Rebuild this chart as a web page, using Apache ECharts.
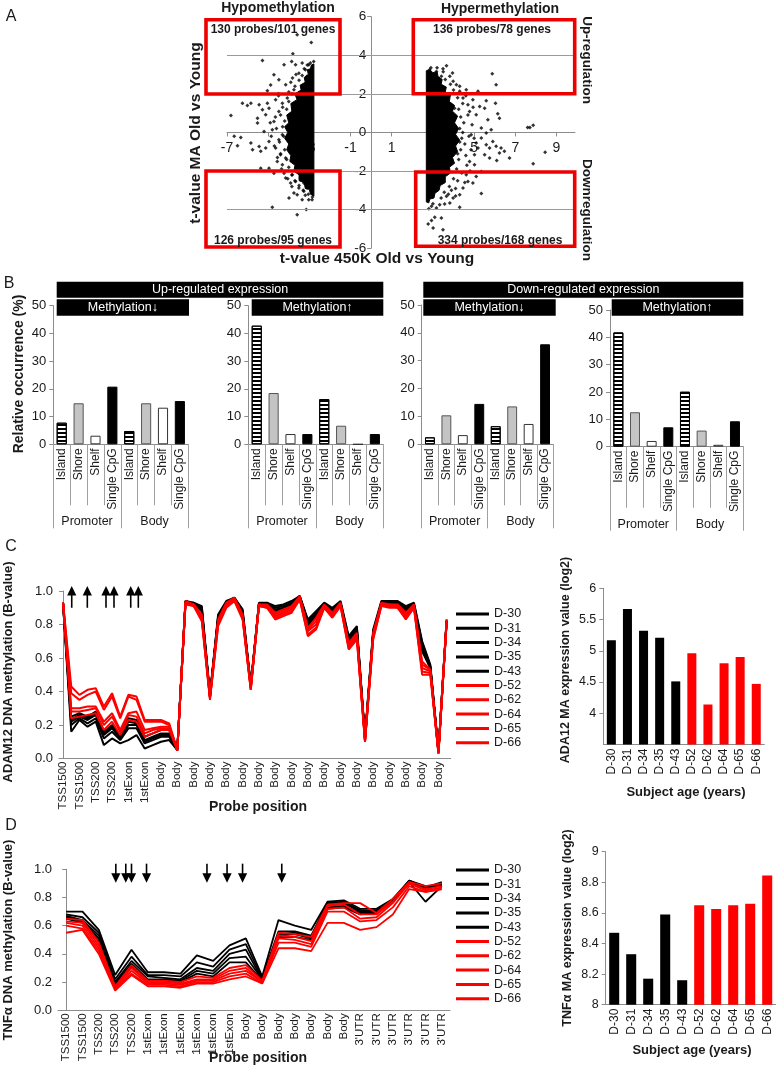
<!DOCTYPE html>
<html><head><meta charset="utf-8">
<script src="https://cdn.jsdelivr.net/npm/echarts@6/dist/echarts.min.js"></script>
<style>html,body{margin:0;padding:0;background:#fff}#c{width:778px;height:1072px}</style>
</head><body><div id="c"></div>
<script>
// ================= Panel A data =================
const aLeftCore = [[-2.78,3.55],[-2.9,3.5],[-2.95,3.3],[-3.1,3.25],[-3.05,3.0],[-3.25,2.85],[-3.2,2.6],[-3.45,2.45],[-3.4,2.2],[-3.7,2.0],[-3.6,1.7],[-3.9,1.5],[-3.85,1.1],[-4.1,0.9],[-4.0,0.5],[-4.2,0.3],[-4.05,0],[-4.2,-0.3],[-4.0,-0.6],[-4.1,-0.9],[-3.9,-1.2],[-3.95,-1.5],[-3.7,-1.7],[-3.75,-2.0],[-3.5,-2.2],[-3.5,-2.5],[-3.25,-2.6],[-3.2,-2.9],[-3.0,-2.95],[-2.95,-3.2],[-2.78,-3.3]];
const aRightCore = [[2.68,3.2],[2.85,3.25],[3.0,3.1],[3.2,3.15],[3.25,2.9],[3.45,2.75],[3.4,2.5],[3.65,2.35],[3.6,2.1],[3.85,1.95],[3.8,1.6],[4.05,1.4],[3.95,1.1],[4.2,0.85],[4.05,0.5],[4.25,0.2],[4.1,-0.1],[4.3,-0.4],[4.1,-0.7],[4.2,-1.0],[3.95,-1.3],[4.05,-1.6],[3.8,-1.8],[3.85,-2.1],[3.6,-2.3],[3.6,-2.6],[3.35,-2.75],[3.3,-3.0],[3.1,-3.15],[3.05,-3.4],[2.85,-3.45],[2.8,-3.65],[2.68,-3.6]];
const aLeftPoints = [
[-3.59,5.06],[-2.91,4.66],[-3.80,4.08],[-5.28,3.73],[-3.86,3.68],[-4.23,3.51],[-3.67,3.51],[-3.35,3.60],[-3.03,3.51],[-4.72,2.99],
[-4.48,2.73],[-4.88,2.46],[-5.04,2.16],[-4.15,2.47],[-4.50,2.00],[-6.25,1.52],[-6.01,1.40],[-5.84,1.52],[-5.44,1.44],[-5.28,1.18],
[-5.04,1.52],[-4.96,1.26],[-6.81,0.88],[-5.52,0.74],[-5.52,0.49],[-5.12,0.92],[-4.72,0.57],[-4.48,1.09],[-6.65,-0.20],[-6.33,-0.26],
[-6.49,-0.69],[-5.84,-0.55],[-5.76,-0.90],[-5.44,-0.73],[-5.36,-0.98],[-5.12,-0.81],[-4.96,-0.47],[-5.20,0.05],[-4.80,0.14],[-5.36,-1.85],
[-4.96,-1.85],[-4.72,-2.11],[-4.56,-1.50],[-4.40,-1.15],[-3.99,-3.40],[-3.75,-3.14],[-3.59,-3.23],[-3.35,-3.49],[-3.27,-3.05],[-3.03,-3.49],
[-2.87,-3.49],[-4.80,-3.88],[-3.59,-4.26],[-3.15,-4.00],[-4.15,-2.36],[-3.91,-2.62],[-3.51,-2.88],[-3.11,-2.88],[-2.87,-2.71],[-4.23,-2.11],
[-4.31,-1.68],[-4.15,-1.33],[-4.07,1.78],[-3.82,2.82],[-3.51,3.07],[-3.11,2.91],[-2.87,3.16],[-4.31,1.52],[-4.64,1.69],[-2.79,3.68],
[-3.19,3.25],[-3.75,2.21],[-4.64,-0.81],[-4.31,-0.12],[-4.48,-0.38],[-3.43,-2.36],[-3.27,-2.62],[-2.95,-2.36],[-3.67,-2.54],[-3.83,-2.19],
[-4.2,0.6],[-4.25,-0.2],[-4.3,0.3],[-4.2,-0.9],[-4.1,-1.4],[-4.0,-1.8],[-3.85,-2.2],[-3.7,-2.5],[-3.5,-2.75],[-3.3,-3.0],
[-4.1,1.2],[-4.0,1.6],[-3.85,2.0],[-3.7,2.4],[-3.5,2.7],[-3.35,2.95],[-3.25,3.3],[-3.1,3.5],[-2.95,3.6],[-4.4,0.9],
[-4.45,-0.5],[-4.4,-1.1],[-4.3,1.3],[-4.6,0.2],[-4.55,-1.3],[-4.35,-1.9],[-4.05,-2.4],[-3.85,-2.8],[-4.65,0.8],[-4.7,-0.7],
[-3.05,-3.2],[-2.85,-3.35],[-3.2,-3.25],[-2.9,-3.0],[-4.0,2.1],[-3.9,2.6],[-3.65,3.0],[-4.5,1.9],[-4.85,-0.2],[-4.9,0.5]
];
const aRightPoints = [
[3.66,3.46],[3.49,3.30],[3.95,3.08],[3.82,2.91],[3.98,2.65],[5.88,3.04],[6.07,2.47],[5.19,2.13],[4.94,1.70],[5.59,1.64],
[6.04,1.52],[4.70,1.44],[5.27,1.35],[4.78,1.09],[5.10,0.92],[6.15,0.97],[5.67,0.66],[6.23,0.74],[7.60,0.26],[7.87,0.37],
[7.71,0.26],[5.83,0.14],[5.59,-0.03],[5.35,0.23],[5.35,-0.29],[5.10,-0.55],[5.59,-0.64],[5.75,-0.81],[6.07,-0.72],[6.31,-0.81],
[6.23,-1.07],[6.47,-0.98],[6.72,-1.33],[6.10,-1.45],[5.75,-1.33],[8.45,-1.02],[7.87,-1.62],[5.35,-2.02],[5.10,-2.28],[4.70,-2.54],
[4.94,-2.62],[5.35,-3.17],[4.30,-3.88],[3.82,-3.66],[3.57,-3.71],[3.33,-3.75],[2.93,-3.83],[3.17,-3.92],[3.09,-4.40],[2.93,-4.57],
[2.77,-4.75],[3.41,-4.43],[3.49,-5.04],[3.01,-4.95],[4.46,-2.88],[4.30,-3.23],[4.62,-2.19],[4.78,-1.50],[5.02,-1.15],[4.86,-0.12],
[4.46,1.78],[4.30,2.13],[4.14,2.47],[4.62,2.21],[5.51,1.26],[5.91,-0.47],[3.17,3.16],[2.84,3.25],[3.41,2.91],[3.98,-3.40],
[3.66,-3.31],[5.19,-0.81],[5.51,-1.15],[5.02,-1.68],
[4.25,1.2],[4.35,0.8],[4.3,0.2],[4.4,-0.3],[4.35,-0.9],[4.25,-1.4],[4.15,-1.9],[4.0,-2.4],[3.8,-2.8],[3.55,-3.1],
[4.5,0.5],[4.55,-0.6],[4.6,-1.2],[4.45,1.5],[4.2,1.8],[4.0,2.2],[3.85,2.5],[3.6,2.75],[4.7,0.9],[4.75,-0.2],
[4.9,0.4],[4.65,-1.7],[4.4,-2.1],[4.2,-2.5],[3.9,-3.0],[4.1,-2.9],[3.75,-3.2],[3.4,-3.4],[3.0,-3.7],[2.8,-3.95],
[3.5,3.15],[3.2,3.35],[2.9,3.35],[4.05,1.25],[4.3,-0.5],[4.45,0.0],[4.2,-1.1],[5.0,-0.3],[4.85,-0.9],[4.95,1.3],
[4.3,2.4],[4.6,1.9],[4.8,-2.0],[4.55,-2.6],[4.1,-3.3]
];
const aGridLevels = [-4, -2, 2, 4];
const aXTicks = [-7, -5, -3, -1, 1, 3, 5, 7, 9];
const aXLabels = [-7, -3, -1, 1, 3, 5, 7, 9];
const aBoxCounts = ['130 probes/101 genes', '136 probes/78 genes', '126 probes/95 genes', '334 probes/168 genes'];

// ================= Panel B data =================
const bCategories = ['Island', 'Shore', 'Shelf', 'Single CpG', 'Island', 'Shore', 'Shelf', 'Single CpG'];
const bGroups = ['Promoter', 'Body'];
const bUpMethDown = [7.8, 14.8, 3.1, 20.8, 4.8, 14.8, 13.2, 15.6];
const bUpMethUp = [42.8, 18.5, 3.7, 3.7, 16.3, 6.7, 0, 3.7];
const bDownMethDown = [2.5, 10.4, 3.3, 14.5, 6.5, 13.6, 7.3, 35.9];
const bDownMethUp = [41.8, 12.6, 2.1, 7.1, 20.1, 5.9, 0.7, 9.3];
const bPanelTitles = ['Methylation\u2193', 'Methylation\u2191', 'Methylation\u2193', 'Methylation\u2191'];
const bHeaderTitles = ['Up-regulated expression', 'Down-regulated expression'];

// ================= Panels C / D data =================
const subjects = ['D-30', 'D-31', 'D-34', 'D-35', 'D-43', 'D-52', 'D-62', 'D-64', 'D-65', 'D-66'];
const subjectGroup = ['young', 'young', 'young', 'young', 'young', 'old', 'old', 'old', 'old', 'old'];

const cProbes = ['TSS1500','TSS1500','TSS1500','TSS1500','TSS200','TSS200','TSS200','TSS200','1stExon','1stExon','1stExon','1stExon',
 'Body','Body','Body','Body','Body','Body','Body','Body','Body','Body','Body','Body','Body','Body','Body','Body','Body','Body',
 'Body','Body','Body','Body','Body','Body','Body','Body','Body','Body','Body','Body','Body','Body','Body','Body','Body','Body'];
const cD30 = [0.93,0.25,0.27,0.25,0.28,0.16,0.20,0.14,0.24,0.23,0.13,0.15,0.17,0.17,0.06, 0.94,0.93,0.91,0.38,0.86,0.94,0.96,0.89,0.44,0.93,0.93,0.91,0.92,0.94,0.97,0.83,0.88,0.93,0.90,0.94,0.73,0.79,0.13,0.77,0.94,0.94,0.94,0.91,0.93,0.70,0.56,0.05,0.83];
const cD31 = [0.93,0.23,0.26,0.24,0.27,0.15,0.19,0.13,0.22,0.21,0.11,0.13,0.15,0.15,0.06, 0.94,0.92,0.90,0.37,0.85,0.93,0.96,0.88,0.43,0.92,0.92,0.90,0.91,0.93,0.97,0.82,0.87,0.92,0.89,0.93,0.72,0.78,0.12,0.76,0.93,0.93,0.93,0.90,0.92,0.69,0.55,0.04,0.82];
const cD34 = [0.92,0.22,0.25,0.23,0.26,0.14,0.18,0.12,0.20,0.20,0.10,0.12,0.14,0.14,0.05, 0.93,0.93,0.89,0.38,0.84,0.93,0.95,0.87,0.44,0.92,0.92,0.89,0.90,0.92,0.97,0.81,0.86,0.92,0.88,0.93,0.71,0.77,0.12,0.75,0.93,0.92,0.92,0.89,0.92,0.68,0.55,0.04,0.82];
const cD35 = [0.92,0.20,0.24,0.21,0.24,0.12,0.16,0.11,0.18,0.18,0.09,0.11,0.13,0.13,0.05, 0.94,0.92,0.88,0.37,0.84,0.92,0.96,0.87,0.42,0.92,0.92,0.88,0.90,0.92,0.96,0.80,0.85,0.92,0.88,0.93,0.70,0.77,0.11,0.75,0.92,0.92,0.92,0.89,0.91,0.66,0.54,0.04,0.82];
const cD43 = [0.92,0.16,0.23,0.19,0.22,0.08,0.12,0.09,0.11,0.14,0.06,0.08,0.10,0.11,0.05, 0.93,0.92,0.88,0.37,0.83,0.92,0.95,0.86,0.43,0.92,0.91,0.88,0.89,0.91,0.96,0.79,0.84,0.91,0.87,0.92,0.70,0.76,0.12,0.74,0.92,0.92,0.92,0.88,0.91,0.64,0.54,0.04,0.82];
const cD52 = [0.93,0.43,0.38,0.41,0.42,0.31,0.39,0.25,0.38,0.37,0.23,0.23,0.23,0.21,0.05, 0.94,0.92,0.86,0.37,0.83,0.93,0.96,0.86,0.43,0.92,0.92,0.87,0.89,0.91,0.97,0.78,0.84,0.92,0.87,0.93,0.69,0.75,0.11,0.75,0.93,0.92,0.92,0.87,0.92,0.58,0.53,0.04,0.83];
const cD62 = [0.93,0.39,0.35,0.38,0.40,0.29,0.37,0.24,0.37,0.35,0.22,0.22,0.22,0.20,0.05, 0.93,0.92,0.85,0.36,0.82,0.92,0.95,0.85,0.42,0.92,0.91,0.86,0.88,0.90,0.96,0.77,0.82,0.91,0.86,0.92,0.68,0.74,0.11,0.74,0.92,0.92,0.91,0.86,0.91,0.56,0.53,0.03,0.82];
const cD64 = [0.93,0.30,0.30,0.31,0.31,0.22,0.27,0.17,0.27,0.28,0.17,0.18,0.19,0.19,0.05, 0.93,0.91,0.84,0.36,0.81,0.91,0.95,0.84,0.42,0.91,0.91,0.85,0.87,0.89,0.96,0.76,0.80,0.91,0.85,0.92,0.67,0.73,0.10,0.73,0.92,0.91,0.91,0.85,0.91,0.54,0.52,0.03,0.82];
const cD65 = [0.93,0.28,0.28,0.29,0.30,0.20,0.25,0.16,0.26,0.25,0.15,0.17,0.18,0.18,0.05, 0.93,0.92,0.83,0.36,0.80,0.91,0.94,0.84,0.41,0.91,0.90,0.84,0.86,0.88,0.95,0.74,0.78,0.90,0.85,0.91,0.66,0.72,0.10,0.72,0.91,0.91,0.90,0.84,0.90,0.52,0.51,0.03,0.81];
const cD66 = [0.93,0.24,0.25,0.26,0.27,0.17,0.22,0.14,0.23,0.22,0.13,0.15,0.17,0.17,0.05, 0.92,0.91,0.82,0.35,0.79,0.90,0.94,0.83,0.41,0.91,0.90,0.83,0.85,0.87,0.95,0.73,0.77,0.90,0.84,0.91,0.65,0.71,0.10,0.71,0.91,0.90,0.90,0.83,0.90,0.50,0.50,0.03,0.81];
const cArrowPos = [1.06, 2.97, 5.26, 6.24, 8.29, 9.22];
const cExpr = [5.17, 5.67, 5.32, 5.21, 4.51, 4.96, 4.14, 4.80, 4.90, 4.47];

const dProbes = ['TSS1500','TSS1500','TSS200','TSS200','TSS200','1stExon','1stExon','1stExon','1stExon','1stExon','1stExon',
 'Body','Body','Body','Body','Body','Body','Body',"3'UTR","3'UTR","3'UTR","3'UTR","3'UTR","3'UTR"];
const dD30 = [0.70,0.70,0.57,0.25,0.43,0.27,0.27,0.26,0.39,0.35,0.46,0.51,0.24,0.64,0.60,0.57,0.77,0.78,0.72,0.72,0.79,0.92,0.87,0.90];
const dD31 = [0.68,0.66,0.55,0.22,0.38,0.25,0.25,0.24,0.34,0.31,0.43,0.47,0.23,0.56,0.56,0.53,0.76,0.77,0.71,0.70,0.78,0.91,0.86,0.89];
const dD34 = [0.67,0.64,0.53,0.20,0.35,0.24,0.23,0.22,0.30,0.28,0.40,0.43,0.22,0.54,0.55,0.52,0.75,0.76,0.70,0.71,0.77,0.91,0.77,0.88];
const dD35 = [0.66,0.63,0.51,0.19,0.33,0.22,0.22,0.21,0.28,0.26,0.37,0.38,0.22,0.53,0.54,0.51,0.73,0.74,0.69,0.70,0.78,0.92,0.88,0.89];
const dD43 = [0.65,0.62,0.49,0.18,0.31,0.21,0.21,0.20,0.26,0.24,0.34,0.34,0.21,0.52,0.52,0.50,0.72,0.73,0.68,0.69,0.77,0.90,0.87,0.91];
const dD52 = [0.65,0.64,0.48,0.17,0.32,0.21,0.21,0.20,0.24,0.23,0.30,0.32,0.21,0.55,0.54,0.52,0.75,0.76,0.76,0.69,0.79,0.91,0.88,0.90];
const dD62 = [0.63,0.62,0.46,0.16,0.30,0.20,0.20,0.19,0.22,0.22,0.28,0.30,0.20,0.53,0.52,0.49,0.74,0.75,0.68,0.68,0.77,0.90,0.86,0.88];
const dD64 = [0.62,0.60,0.44,0.15,0.28,0.19,0.19,0.18,0.21,0.21,0.26,0.28,0.20,0.51,0.50,0.47,0.72,0.73,0.65,0.66,0.76,0.90,0.85,0.87];
const dD65 = [0.60,0.58,0.42,0.15,0.26,0.18,0.18,0.17,0.20,0.20,0.24,0.26,0.19,0.48,0.48,0.45,0.70,0.70,0.63,0.64,0.73,0.88,0.84,0.86];
const dD66 = [0.55,0.57,0.40,0.14,0.25,0.17,0.17,0.16,0.19,0.19,0.22,0.24,0.19,0.44,0.44,0.42,0.62,0.62,0.57,0.59,0.68,0.86,0.84,0.86];
const dArrowPos = [3.04, 3.65, 4.0, 4.92, 8.62, 9.85, 10.8, 13.2];
const dExpr = [8.47, 8.33, 8.17, 8.59, 8.16, 8.65, 8.625, 8.65, 8.66, 8.845];

// ================= Build option =================
const FONT = '"Liberation Sans", Arial, Helvetica, sans-serif';
const AX = '#8c8c8c';
const TXT = '#1a1a1a';
const RED = '#ff0000';
const groupColor = g => (g === 'young' ? '#000000' : RED);

const cLines = [cD30, cD31, cD34, cD35, cD43, cD52, cD62, cD64, cD65, cD66];
const dLines = [dD30, dD31, dD34, dD35, dD43, dD52, dD62, dD64, dD65, dD66];
const bValues = [bUpMethDown, bUpMethUp, bDownMethDown, bDownMethUp];

const hatch = { color: '#fff', borderColor: '#000', borderWidth: 1,
  decal: { symbol: 'rect', symbolSize: 1, dashArrayX: [1, 0], dashArrayY: [1.4, 1.4], rotation: 0, color: '#000' } };
const bStyle = {
  'Island': hatch,
  'Shore': { color: '#c4c4c4', borderColor: '#555', borderWidth: 1 },
  'Shelf': { color: '#ffffff', borderColor: '#333', borderWidth: 1 },
  'Single CpG': { color: '#000000', borderColor: '#000', borderWidth: 1 }
};

const aXMin = -7, aXMax = 9.9, aYMin = -6, aYMax = 6;
const grids = [
  { left: 227, top: 16.7, width: 348, height: 231.5 },
  { left: 53.3, top: 305.7, width: 135, height: 138.6 },
  { left: 248.3, top: 305.7, width: 135, height: 138.6 },
  { left: 421.7, top: 305, width: 131.6, height: 139.3 },
  { left: 610, top: 310, width: 133.3, height: 136.7 },
  { left: 59, top: 591, width: 391.7, height: 167.5 },
  { left: 603.3, top: 588.3, width: 161, height: 156.2 },
  { left: 58, top: 869.3, width: 392, height: 141 },
  { left: 605.7, top: 851.7, width: 170, height: 153 }
].map(g => Object.assign({ containLabel: false, outerBoundsMode: 'none' }, g));

const xAxes = [];
const yAxes = [];
// A: axes cross at (0, 0)
xAxes.push({ type: 'value', gridIndex: 0, min: aXMin, max: aXMax, position: 'bottom',
  offset: -grids[0].height * (0 - aYMin) / (aYMax - aYMin),
  axisLine: { show: true, onZero: false, lineStyle: { color: AX } },
  axisTick: { show: true, length: 4, customValues: aXTicks, lineStyle: { color: AX } },
  axisLabel: { customValues: aXLabels, fontSize: 14, color: TXT, margin: 9 },
  splitLine: { show: false } });
yAxes.push({ type: 'value', gridIndex: 0, min: aYMin, max: aYMax, interval: 2, position: 'left',
  offset: -grids[0].width * (0 - aXMin) / (aXMax - aXMin),
  axisLine: { show: true, onZero: false, lineStyle: { color: AX } },
  axisTick: { show: true, length: 4, lineStyle: { color: AX } },
  axisLabel: { fontSize: 13.5, color: TXT, margin: 5 },
  splitLine: { show: false } });
// B
for (let k = 0; k < 4; k++) {
  xAxes.push({ type: 'category', gridIndex: 1 + k, data: bCategories,
    axisLine: { show: true, lineStyle: { color: AX } },
    axisTick: { show: true, interval: 0, length: 61, lineStyle: { color: '#a0a0a0' } },
    axisLabel: { interval: 0, rotate: 90, fontSize: 12, color: TXT, margin: 4 } });
  yAxes.push({ type: 'value', gridIndex: 1 + k, min: 0, max: 50, interval: 10,
    axisLine: { show: true, lineStyle: { color: AX } },
    axisTick: { show: true, length: 4, lineStyle: { color: AX } },
    axisLabel: { fontSize: 13, color: TXT, margin: 7 },
    splitLine: { show: false } });
}
for (let k = 0; k < 4; k++) {
  xAxes.push({ type: 'category', gridIndex: 1 + k, data: bGroups, position: 'bottom',
    axisLine: { show: false },
    axisTick: { show: true, interval: 0, length: 84, lineStyle: { color: '#a0a0a0' } },
    axisLabel: { interval: 0, fontSize: 12.5, color: TXT, margin: 71 } });
}
// C line (xAxis 9) + arrows axis (10)
xAxes.push({ type: 'category', gridIndex: 5, data: cProbes,
  axisLine: { show: true, lineStyle: { color: AX } }, axisTick: { show: false },
  axisLabel: { interval: 1, rotate: 90, fontSize: 11.5, color: TXT, margin: 3 } });
xAxes.push({ type: 'value', gridIndex: 5, min: -0.5, max: cProbes.length - 0.5, show: false });
yAxes.push({ type: 'value', gridIndex: 5, min: 0, max: 1, interval: 0.2,
  axisLine: { show: true, lineStyle: { color: AX } },
  axisTick: { show: true, length: 4, lineStyle: { color: AX } },
  axisLabel: { fontSize: 13, color: TXT, margin: 6, formatter: v => v.toFixed(1) },
  splitLine: { show: false } });
// C bar (xAxis 11)
xAxes.push({ type: 'category', gridIndex: 6, data: subjects,
  axisLine: { show: true, lineStyle: { color: AX } }, axisTick: { show: false },
  axisLabel: { interval: 0, rotate: 90, fontSize: 12, color: TXT, margin: 4 } });
yAxes.push({ type: 'value', gridIndex: 6, min: 3.5, max: 6, interval: 0.5,
  axisLine: { show: true, lineStyle: { color: AX } },
  axisTick: { show: true, length: 4, lineStyle: { color: AX } },
  axisLabel: { fontSize: 12.5, color: TXT, margin: 7, showMinLabel: false },
  splitLine: { show: false } });
// D line (xAxis 12) + arrows (13)
xAxes.push({ type: 'category', gridIndex: 7, data: dProbes,
  axisLine: { show: true, lineStyle: { color: AX } }, axisTick: { show: false },
  axisLabel: { interval: 0, rotate: 90, fontSize: 11.5, color: TXT, margin: 3 } });
xAxes.push({ type: 'value', gridIndex: 7, min: -0.5, max: dProbes.length - 0.5, show: false });
yAxes.push({ type: 'value', gridIndex: 7, min: 0, max: 1, interval: 0.2,
  axisLine: { show: true, lineStyle: { color: AX } },
  axisTick: { show: true, length: 4, lineStyle: { color: AX } },
  axisLabel: { fontSize: 13, color: TXT, margin: 6, formatter: v => v.toFixed(1) },
  splitLine: { show: false } });
// D bar (xAxis 14)
xAxes.push({ type: 'category', gridIndex: 8, data: subjects,
  axisLine: { show: true, lineStyle: { color: AX } }, axisTick: { show: false },
  axisLabel: { interval: 0, rotate: 90, fontSize: 12, color: TXT, margin: 4 } });
yAxes.push({ type: 'value', gridIndex: 8, min: 8, max: 9, interval: 0.2,
  axisLine: { show: true, lineStyle: { color: AX } },
  axisTick: { show: true, length: 4, lineStyle: { color: AX } },
  axisLabel: { fontSize: 12.5, color: TXT, margin: 7 },
  splitLine: { show: false } });

const series = [];
// A: dense cores
const corePolys = [aLeftCore, aRightCore];
series.push({ type: 'custom', xAxisIndex: 0, yAxisIndex: 0, silent: true,
  data: corePolys.map((p, i) => [p[0][0], p[0][1], i]),
  encode: { x: 0, y: 1 },
  renderItem: (params, api) => {
    const pts = corePolys[api.value(2)].map(p => api.coord(p));
    return { type: 'polygon', shape: { points: pts }, style: { fill: '#000', stroke: '#000', lineWidth: 1 } };
  },
  markLine: { silent: true, symbol: 'none', label: { show: false },
    lineStyle: { color: '#9a9a9a', width: 1, type: 'solid' },
    data: aGridLevels.map(v => ({ yAxis: v })) },
  z: 3 });
series.push({ type: 'scatter', xAxisIndex: 0, yAxisIndex: 0, silent: true,
  data: aLeftPoints.concat(aRightPoints), symbol: 'diamond', symbolSize: 4,
  itemStyle: { color: '#000' }, z: 3 });
// B bars
for (let k = 0; k < 4; k++) {
  series.push({ type: 'bar', xAxisIndex: 1 + k, yAxisIndex: 1 + k, barWidth: '60%', silent: true,
    data: bValues[k].map((v, i) => ({ value: v, itemStyle: bStyle[bCategories[i]] })) });
}
// C & D lines
subjects.forEach((name, s) => {
  const col = groupColor(subjectGroup[s]);
  series.push({ type: 'line', name, xAxisIndex: 9, yAxisIndex: 5, data: cLines[s], showSymbol: false, symbol: 'none',
    lineStyle: { color: col, width: 2 }, itemStyle: { color: col }, z: subjectGroup[s] === 'old' ? 4 : 3 });
});
subjects.forEach((name, s) => {
  const col = groupColor(subjectGroup[s]);
  series.push({ type: 'line', name, xAxisIndex: 12, yAxisIndex: 7, data: dLines[s], showSymbol: false, symbol: 'none',
    lineStyle: { color: col, width: 1.8 }, itemStyle: { color: col }, z: subjectGroup[s] === 'old' ? 4 : 3 });
});
// arrows
function arrowRender(dir) {
  return (params, api) => {
    const x = api.value(0);
    const a = api.coord([x, api.value(1)]);
    const b = api.coord([x, api.value(2)]);
    const hw = 4.6, hh = 9.5;
    let shaft, head;
    if (dir === 'up') {
      shaft = { x1: a[0], y1: a[1] + hh - 1, x2: b[0], y2: b[1] };
      head = [[a[0], a[1]], [a[0] - hw, a[1] + hh], [a[0] + hw, a[1] + hh]];
    } else {
      shaft = { x1: a[0], y1: a[1], x2: b[0], y2: b[1] - hh + 1 };
      head = [[b[0], b[1]], [b[0] - hw, b[1] - hh], [b[0] + hw, b[1] - hh]];
    }
    return { type: 'group', children: [
      { type: 'line', shape: shaft, style: { stroke: '#000', lineWidth: 1.6 } },
      { type: 'polygon', shape: { points: head }, style: { fill: '#000' } } ] };
  };
}
series.push({ type: 'custom', xAxisIndex: 10, yAxisIndex: 5, silent: true, clip: false,
  data: cArrowPos.map(p => [p, 1.03, 0.90]), encode: { x: 0, y: 1 }, renderItem: arrowRender('up') });
series.push({ type: 'custom', xAxisIndex: 13, yAxisIndex: 7, silent: true, clip: false,
  data: dArrowPos.map(p => [p, 1.04, 0.905]), encode: { x: 0, y: 1 }, renderItem: arrowRender('down') });
// expression bars
series.push({ type: 'bar', xAxisIndex: 11, yAxisIndex: 6, barWidth: '56%', silent: true,
  data: cExpr.map((v, i) => ({ value: v, itemStyle: { color: groupColor(subjectGroup[i]) } })) });
series.push({ type: 'bar', xAxisIndex: 14, yAxisIndex: 8, barWidth: '59%', silent: true,
  data: dExpr.map((v, i) => ({ value: v, itemStyle: { color: groupColor(subjectGroup[i]) } })) });

// ---------- annotations ----------
function txt(x, y, text, font, opts) {
  return Object.assign({ type: 'text', x, y, silent: true, z: 100,
    style: { text, font: font + ' ' + FONT, fill: TXT, align: 'center', verticalAlign: 'middle' } }, opts || {});
}
function rtxt(x, y, text, font, rot) {
  return { type: 'text', x, y, rotation: rot, silent: true, z: 100,
    style: { text, font: font + ' ' + FONT, fill: TXT, align: 'center', verticalAlign: 'middle' } };
}
function box(x, y, w, h) {
  return { type: 'rect', silent: true, z: 90, shape: { x, y, width: w, height: h },
    style: { fill: null, stroke: '#ee0000', lineWidth: 3.6 } };
}
function header(x, y, w, h, text, size) {
  return [ { type: 'rect', silent: true, z: 90, shape: { x, y, width: w, height: h }, style: { fill: '#000' } },
    { type: 'text', silent: true, z: 91, x: x + w / 2, y: y + h / 2,
      style: { text, font: size + 'px ' + FONT, fill: '#fff', align: 'center', verticalAlign: 'middle' } } ];
}
const R90 = Math.PI / 2;
const graphic = [
  txt(11, 17, 'A', '16px'),
  txt(278, 8, 'Hypomethylation', 'bold 14px'),
  txt(500, 9, 'Hypermethylation', 'bold 14px'),
  box(206, 19.7, 134, 74.3), box(413.3, 19.7, 161.4, 74),
  box(206, 171, 134, 76), box(415.7, 172, 159, 74.3),
  txt(273, 29.5, aBoxCounts[0], 'bold 12px'), txt(492, 29.5, aBoxCounts[1], 'bold 12px'),
  txt(273, 241, aBoxCounts[2], 'bold 12px'), txt(500, 241, aBoxCounts[3], 'bold 12px'),
  rtxt(587, 60, 'Up-regulation', 'bold 13.5px', -R90),
  rtxt(587, 210, 'Downregulation', 'bold 13.5px', -R90),
  rtxt(196, 133, 't-value MA Old vs Young', 'bold 15.5px', R90),
  txt(377, 259, 't-value 450K Old vs Young', 'bold 15.5px'),
  txt(9, 284, 'B', '16px'),
  ...header(56.7, 281.7, 326.6, 16, bHeaderTitles[0], 12.5),
  ...header(423.3, 281.7, 320, 16, bHeaderTitles[1], 12.5),
  ...header(56.7, 299.3, 132.3, 16.4, bPanelTitles[0], 12.5),
  ...header(251.7, 299.3, 131.6, 16.4, bPanelTitles[1], 12.5),
  ...header(423.3, 299.3, 132.4, 16.4, bPanelTitles[2], 12.5),
  ...header(611.7, 299.3, 131.6, 16.4, bPanelTitles[3], 12.5),
  rtxt(19, 374, 'Relative occurrence (%)', 'bold 14px', R90),
  txt(11, 547, 'C', '16px'),
  rtxt(8, 672, 'ADAM12 DNA methylation (B-value)', 'bold 13px', R90),
  txt(258, 807, 'Probe position', 'bold 14px'),
  rtxt(566, 660, 'ADA12 MA expression value (log2)', 'bold 12.5px', R90),
  txt(686, 792, 'Subject age (years)', 'bold 13px'),
  txt(11, 826, 'D', '16px'),
  rtxt(8, 940, 'TNF\u03b1 DNA methylation (B-value)', 'bold 13px', R90),
  txt(258, 1058, 'Probe position', 'bold 14px'),
  rtxt(568, 928, 'TNF\u03b1 MA expression value (log2)', 'bold 12.5px', R90),
  txt(692, 1050, 'Subject age (years)', 'bold 13px')
];

const legendBase = { data: subjects, orient: 'vertical', left: 456, itemWidth: 33, itemHeight: 3, itemGap: 0.3,
  icon: 'rect', selectedMode: false, padding: 0,
  textStyle: { fontSize: 12.5, lineHeight: 14, color: TXT, fontFamily: FONT } };

const option = {
  animation: false,
  backgroundColor: '#fff',
  textStyle: { fontFamily: FONT },
  grid: grids,
  xAxis: xAxes,
  yAxis: yAxes,
  legend: [ Object.assign({ top: 607 }, legendBase), Object.assign({ top: 863 }, legendBase) ],
  series,
  graphic
};
const chart = echarts.init(document.getElementById('c'), null, { renderer: 'canvas', width: 778, height: 1072 });
chart.setOption(option);
</script></body></html>
